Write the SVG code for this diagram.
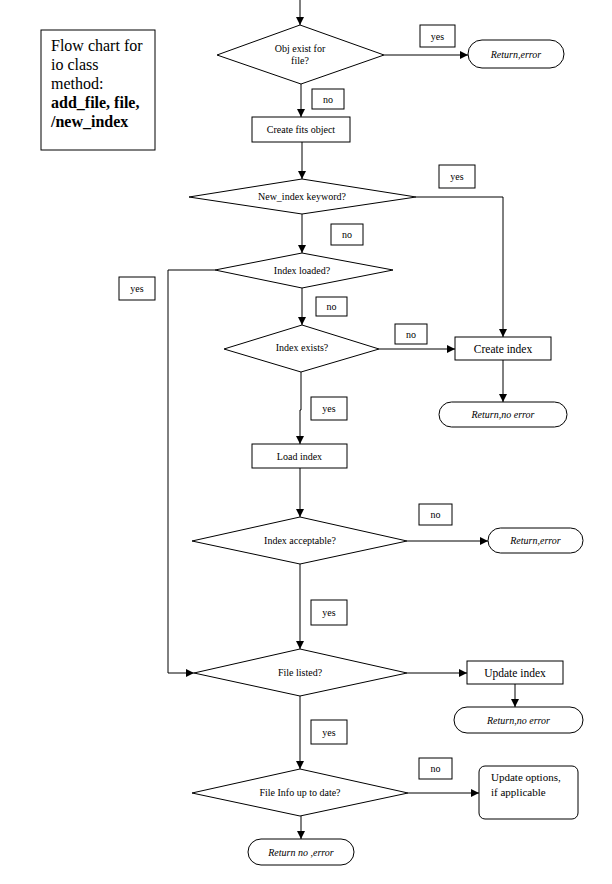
<svg xmlns="http://www.w3.org/2000/svg" width="612" height="884" viewBox="0 0 612 884" font-family="'Liberation Serif', 'Times New Roman', Times, 'DejaVu Serif', serif">
<style>
.s{fill:#fff;stroke:#000;stroke-width:1}
.c{fill:none;stroke:#000;stroke-width:1}
text{font-family:'Liberation Serif','Times New Roman',Times,'DejaVu Serif',serif}
.t{font-size:10px;fill:#000;text-anchor:middle}
.i{font-style:italic}
.b{font-size:11.5px}
.l{text-anchor:start;font-size:11px}
.tt{font-size:16px;fill:#000}
</style>
<defs>
<marker id="a" markerWidth="8" markerHeight="8" refX="8" refY="4" orient="auto" markerUnits="userSpaceOnUse">
<path d="M0,0 L8,4 L0,8 z" fill="#000"/>
</marker>
</defs>
<rect width="612" height="884" fill="#fff"/>

<g id="title">
<rect class="s" x="41" y="30" width="114" height="120"/>
<text class="tt" x="51" y="51">Flow chart for</text>
<text class="tt" x="51" y="70">io class</text>
<text class="tt" x="51" y="89">method:</text>
<text class="tt" x="51" y="108" font-weight="bold">add_file, file,</text>
<text class="tt" x="51" y="127" font-weight="bold">/new_index</text>
</g>

<g id="connectors">
<path class="c" d="M300,0 V25" marker-end="url(#a)"/>
<path class="c" d="M384,55 H468" marker-end="url(#a)"/>
<path class="c" d="M301,84 V117" marker-end="url(#a)"/>
<path class="c" d="M302,142 V179" marker-end="url(#a)"/>
<path class="c" d="M416,197 H503 V337" marker-end="url(#a)"/>
<path class="c" d="M302,214 V253" marker-end="url(#a)"/>
<path class="c" d="M215,270 H168 V673 H194" marker-end="url(#a)"/>
<path class="c" d="M302,288 V325" marker-end="url(#a)"/>
<path class="c" d="M379,349 H455" marker-end="url(#a)"/>
<path class="c" d="M503,360 V402" marker-end="url(#a)"/>
<path class="c" d="M301,372 V410 H300 V444" marker-end="url(#a)"/>
<path class="c" d="M300,468 V517" marker-end="url(#a)"/>
<path class="c" d="M407,541 H488" marker-end="url(#a)"/>
<path class="c" d="M300,564 V649" marker-end="url(#a)"/>
<path class="c" d="M407,673 H467" marker-end="url(#a)"/>
<path class="c" d="M515,684 V707" marker-end="url(#a)"/>
<path class="c" d="M300,696 V769" marker-end="url(#a)"/>
<path class="c" d="M408,793 H479" marker-end="url(#a)"/>
<path class="c" d="M301,816 V839" marker-end="url(#a)"/>
</g>

<g id="labels">
<g id="l1"><rect class="s" x="420" y="25" width="35" height="22"/><text class="t" x="437.5" y="40">yes</text></g>
<g id="l2"><rect class="s" x="312" y="89" width="32" height="20"/><text class="t" x="328" y="103">no</text></g>
<g id="l3"><rect class="s" x="439" y="165" width="36" height="23"/><text class="t" x="457" y="180">yes</text></g>
<g id="l4"><rect class="s" x="331" y="224" width="32" height="21"/><text class="t" x="347" y="238">no</text></g>
<g id="l5"><rect class="s" x="119" y="277" width="36" height="23"/><text class="t" x="137" y="292">yes</text></g>
<g id="l6"><rect class="s" x="316" y="297" width="31" height="19"/><text class="t" x="331.5" y="310">no</text></g>
<g id="l7"><rect class="s" x="395" y="324" width="32" height="20"/><text class="t" x="411" y="338">no</text></g>
<g id="l8"><rect class="s" x="311" y="397" width="36" height="23"/><text class="t" x="329" y="412">yes</text></g>
<g id="l9"><rect class="s" x="419" y="504" width="33" height="21"/><text class="t" x="435.5" y="518">no</text></g>
<g id="l10"><rect class="s" x="311" y="600" width="36" height="25"/><text class="t" x="329" y="616">yes</text></g>
<g id="l11"><rect class="s" x="311" y="720" width="36" height="24"/><text class="t" x="329" y="736">yes</text></g>
<g id="l12"><rect class="s" x="419" y="758" width="33" height="21"/><text class="t" x="435.5" y="772">no</text></g>
</g>

<g id="d1"><polygon class="s" points="300,25 384,55 301,84 217,55"/><text class="t" x="300" y="52">Obj exist for</text><text class="t" x="300" y="64">file?</text></g>
<g id="n_ret1"><rect class="s" x="468" y="40" width="96" height="28" rx="14"/><text class="t i" x="516" y="58">Return,error</text></g>
<g id="n_fits"><rect class="s" x="252" y="117" width="98" height="25"/><text class="t" x="301" y="133">Create fits object</text></g>
<g id="d2"><polygon class="s" points="302,179 416,197 302,214 189,197"/><text class="t" x="302" y="200">New_index keyword?</text></g>
<g id="d3"><polygon class="s" points="302,253 393,270 302,288 215,270"/><text class="t" x="302" y="274">Index loaded?</text></g>
<g id="d4"><polygon class="s" points="302,325 379,349 301,372 224,349"/><text class="t" x="302" y="351">Index exists?</text></g>
<g id="n_create"><rect class="s" x="455" y="337" width="96" height="23"/><text class="t b" x="503" y="353">Create index</text></g>
<g id="n_ret2"><rect class="s" x="439" y="402" width="128" height="25" rx="12.5"/><text class="t i" x="503" y="418">Return,no error</text></g>
<g id="n_load"><rect class="s" x="252" y="444" width="95" height="24"/><text class="t" x="299.5" y="460">Load index</text></g>
<g id="d5"><polygon class="s" points="300,517 407,541 300,564 192,541"/><text class="t" x="300" y="544">Index acceptable?</text></g>
<g id="n_ret3"><rect class="s" x="488" y="528" width="95" height="25" rx="12.5"/><text class="t i" x="535.5" y="544">Return,error</text></g>
<g id="d6"><polygon class="s" points="300,649 407,673 300,696 194,673"/><text class="t" x="300" y="676">File listed?</text></g>
<g id="n_update"><rect class="s" x="467" y="661" width="96" height="23"/><text class="t b" x="515" y="677">Update index</text></g>
<g id="n_ret4"><rect class="s" x="454" y="707" width="129" height="26" rx="13"/><text class="t i" x="518.5" y="724">Return,no error</text></g>
<g id="d7"><polygon class="s" points="300,769 408,793 300,816 192,793"/><text class="t" x="300" y="796">File Info up to date?</text></g>
<g id="n_opts"><rect class="s" x="479" y="766" width="99" height="53" rx="6"/><text class="t l" x="491" y="781">Update options,</text><text class="t l" x="491" y="796">if applicable</text></g>
<g id="n_ret5"><rect class="s" x="248" y="839" width="106" height="26" rx="13"/><text class="t i" x="301" y="856">Return no ,error</text></g>
</svg>
